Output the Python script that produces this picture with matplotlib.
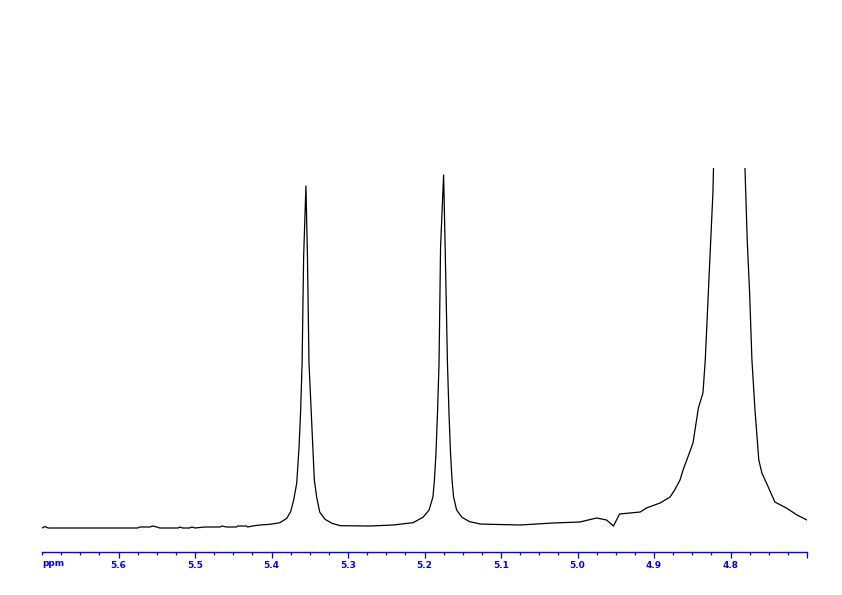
import matplotlib
matplotlib.use("Agg")
import matplotlib.pyplot as plt
import matplotlib.ticker as ticker

ppm = [
    5.700, 5.696, 5.692, 5.575, 5.572, 5.559, 5.555, 5.550, 5.546, 5.522,
    5.520, 5.516, 5.507, 5.504, 5.500, 5.487, 5.467, 5.465, 5.459, 5.446,
    5.444, 5.433, 5.431, 5.425, 5.415, 5.402, 5.389, 5.380, 5.375, 5.371,
    5.367, 5.364, 5.362, 5.360, 5.358, 5.355, 5.353, 5.351, 5.348,
    5.346, 5.344, 5.341, 5.337, 5.330, 5.321, 5.310, 5.271, 5.241, 5.215,
    5.202, 5.194, 5.189, 5.187, 5.185, 5.183, 5.181, 5.179, 5.175, 5.173,
    5.170, 5.168, 5.166, 5.164, 5.162, 5.158, 5.151, 5.141, 5.127, 5.114,
    5.075, 5.032, 4.997, 4.975, 4.962, 4.953, 4.945, 4.918, 4.910, 4.892,
    4.879, 4.873, 4.866, 4.862, 4.849, 4.842, 4.836, 4.833, 4.829, 4.826,
    4.823, 4.820, 4.802, 4.784, 4.778, 4.775, 4.772, 4.768, 4.763, 4.759,
    4.753, 4.742, 4.727, 4.713, 4.700,
]
intensity = [
    0, 1.5, 0, 0, 1, 1, 2, 1, 0, 0,
    1, 0, 0, 1, 0, 1, 1, 2, 1, 1,
    2, 2, 1, 2, 3, 3.7, 5.3, 9.7, 16.3, 28,
    45, 81, 115, 165, 271, 342, 271, 165, 115,
    81, 48, 31, 16, 8.7, 4.7, 2.3, 2, 3, 5.3,
    10.7, 18, 31, 48, 75, 115, 165, 281, 353, 281,
    165, 115, 75, 48, 31, 18, 10.7, 6.3, 4, 3.7,
    3, 5, 6, 10, 8, 2, 14, 16, 20, 25,
    31, 38, 48, 58, 85, 120, 135, 168, 235, 285,
    335, 430, 900, 430, 285, 235, 168, 118, 68, 55,
    45, 26, 20, 13, 8,
]

major_ticks = [5.6, 5.5, 5.4, 5.3, 5.2, 5.1, 5.0, 4.9, 4.8, 4.7]
major_labels = ["5.6", "5.5", "5.4", "5.3", "5.2", "5.1", "5.0", "4.9", "4.8", ""]

BLUE = "#0000ff"
W, H = 842, 595

fig = plt.figure(figsize=(W / 100, H / 100), dpi=100)
ax = fig.add_axes([42 / W, (H - 533) / H, 765 / W, (533 - 168) / H])
ax.patch.set_visible(False)

ax.plot(ppm, intensity, color="black", linewidth=0.9)

ax.set_xlim(5.70, 4.70)
ax.set_ylim(-5, 360)

for side in ["top", "right", "left"]:
    ax.spines[side].set_visible(False)
ax.spines["bottom"].set_position(("outward", 13.7))
ax.spines["bottom"].set_color(BLUE)
ax.spines["bottom"].set_linewidth(1.0)
ax.set_yticks([])

ax.set_xticks(major_ticks)
ax.set_xticklabels(major_labels)
ax.xaxis.set_minor_locator(ticker.MultipleLocator(0.025))
ax.tick_params(axis="x", which="major", direction="out", length=4.3, width=0.9,
               color=BLUE, labelcolor=BLUE, labelsize=6.5, pad=2)
ax.tick_params(axis="x", which="minor", direction="out", length=2.2, width=0.9,
               color=BLUE)
for lbl in ax.get_xticklabels():
    lbl.set_fontweight("bold")

fig.text(42 / W, 1 - 564 / H, "ppm", color=BLUE, fontsize=6.5,
         fontweight="bold", ha="left", va="center")

fig.savefig("out.png", dpi=100)
